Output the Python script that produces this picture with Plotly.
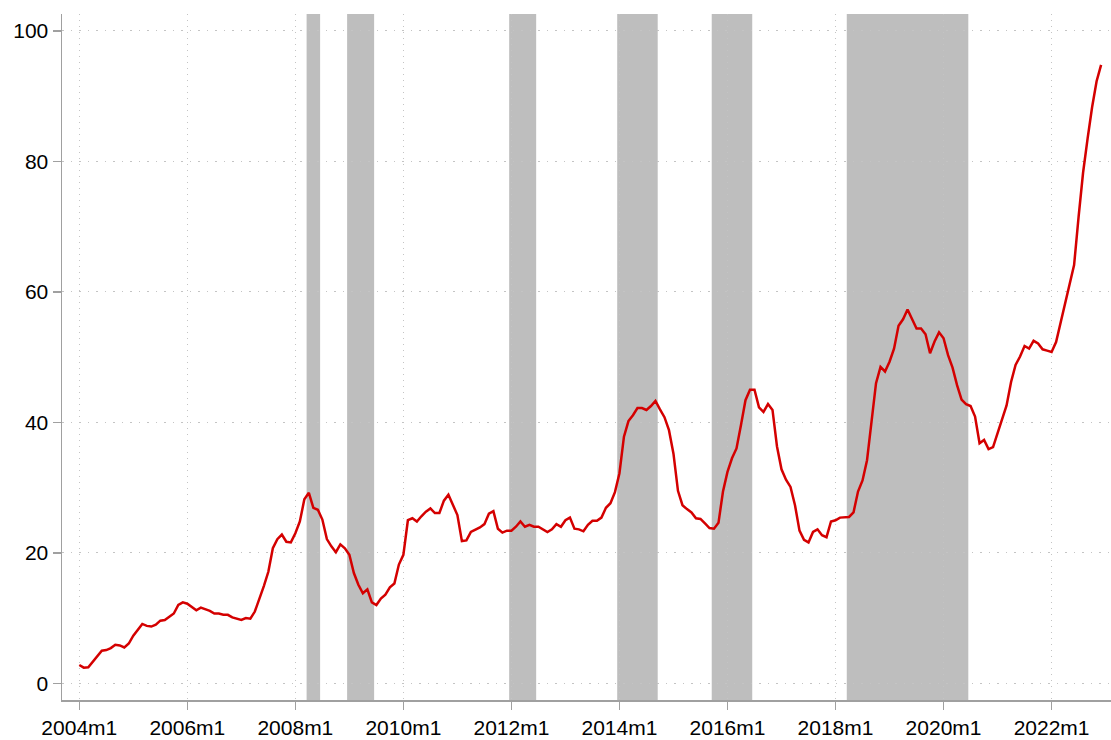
import plotly.graph_objects as go

# Monthly series starting 2004m1 (index 0) through 2022m12
start_year = 2004
values = [
    2.8, 2.4, 2.45, 3.3, 4.3, 5.0, 5.1, 5.4, 5.9, 5.8, 5.5, 6.1,
    7.3, 8.2, 9.1, 8.8, 8.7, 9.0, 9.6, 9.7, 10.2, 10.7, 12.0, 12.4,
    12.2, 11.7, 11.2, 11.6, 11.4, 11.1, 10.7, 10.7, 10.5, 10.5, 10.1, 9.9,
    9.7, 10.0, 9.9, 11.0, 12.8, 14.9, 17.1, 20.7, 22.1, 22.8, 21.7, 21.6,
    23.0, 24.8, 28.2, 29.2, 26.9, 26.6, 25.1, 22.1, 21.0, 20.1, 21.3, 20.7,
    19.7, 16.9, 15.1, 13.8, 14.4, 12.4, 12.0, 13.0, 13.6, 14.7, 15.3, 18.2,
    19.7, 25.0, 25.3, 24.8, 25.6, 26.3, 26.8, 26.1, 26.1, 28.0, 28.9, 27.2,
    25.8, 21.8, 21.9, 23.2, 23.5, 23.9, 24.4, 26.0, 26.4, 23.7, 23.1, 23.4,
    23.4, 24.0, 24.8, 24.0, 24.3, 24.0, 24.0, 23.6, 23.2, 23.6, 24.4, 24.0,
    25.0, 25.4, 23.7, 23.6, 23.3, 24.3, 24.9, 24.9, 25.4, 26.9, 27.6, 29.3,
    32.2, 37.8, 40.2, 41.1, 42.2, 42.2, 41.9, 42.5, 43.3, 42.0, 40.8, 38.8,
    35.2, 29.5, 27.3, 26.7, 26.2, 25.3, 25.2, 24.5, 23.8, 23.7, 24.6, 29.4,
    32.4, 34.5, 36.0, 39.6, 43.4, 45.0, 45.0, 42.3, 41.6, 42.8, 41.9, 36.3,
    32.8, 31.2, 30.1, 27.3, 23.4, 22.0, 21.6, 23.2, 23.6, 22.7, 22.4, 24.8,
    25.0, 25.4, 25.4, 25.5, 26.2, 29.4, 31.1, 34.2, 40.1, 46.0, 48.5, 47.8,
    49.3, 51.3, 54.8, 55.8, 57.3, 55.8, 54.4, 54.4, 53.5, 50.6, 52.4, 53.8,
    52.9, 50.3, 48.4, 45.7, 43.5, 42.8, 42.5, 40.9, 36.8, 37.3, 35.9, 36.2,
    38.3, 40.4, 42.6, 46.2, 48.8, 50.1, 51.7, 51.3, 52.5, 52.1, 51.2, 51.0,
    50.8, 52.3, 55.2, 58.1, 61.0, 64.1, 71.5, 78.3, 83.5, 88.3, 92.3, 94.8,
]
months = list(range(len(values)))

# Shaded periods (first and last month, inclusive)
band_start = ["2008m4", "2009m1", "2012m1", "2014m1", "2015m10", "2018m4"]
band_end = ["2008m6", "2009m6", "2012m6", "2014m9", "2016m6", "2020m6"]

tick_labels = ["2004m1", "2006m1", "2008m1", "2010m1", "2012m1",
               "2014m1", "2016m1", "2018m1", "2020m1", "2022m1"]
y_ticks = [0, 20, 40, 60, 80, 100]


def month_index(label):
    y, m = label.split("m")
    return (int(y) - start_year) * 12 + int(m) - 1


tick_vals = [month_index(t) for t in tick_labels]

Y_MIN, Y_MAX = -2.56, 102.6

fig = go.Figure()
fig.add_trace(go.Scatter(
    x=months, y=values, mode="lines",
    line=dict(color="#d40000", width=2.5),
    hoverinfo="skip", showlegend=False,
))

for s, e in zip(band_start, band_end):
    fig.add_shape(type="rect", xref="x", yref="y",
                  x0=month_index(s) - 0.5, x1=month_index(e) + 0.5,
                  y0=Y_MIN, y1=Y_MAX,
                  fillcolor="#bebebe", line=dict(width=0), layer="below")

font_family = "Liberation Sans, Arial, sans-serif"
fig.update_layout(
    width=1111, height=740,
    margin=dict(l=62, r=0, t=14, b=40),
    plot_bgcolor="white", paper_bgcolor="white",
    font=dict(family=font_family, size=21, color="black"),
    showlegend=False,
)
fig.update_xaxes(
    range=[-3.84, 229.2], tickvals=tick_vals, ticktext=tick_labels,
    showgrid=True, gridcolor="#c4c4c4", griddash="1px,5px", gridwidth=1,
    showline=True, linecolor="#a0a0a0", linewidth=1.5,
    ticks="outside", ticklen=8, tickcolor="#a0a0a0", tickwidth=1.5,
    zeroline=False, tickfont=dict(size=21),
)
fig.update_yaxes(
    range=[Y_MIN, Y_MAX], tickvals=y_ticks,
    showgrid=True, gridcolor="#c4c4c4", griddash="1.5px,7px", gridwidth=1,
    showline=True, linecolor="#a0a0a0", linewidth=1.5,
    ticks="outside", ticklen=8, tickcolor="#a0a0a0", tickwidth=1.5,
    zeroline=False, tickfont=dict(size=21),
)

fig.write_html(
    "out.html",
    config={"displayModeBar": False, "staticPlot": True},
    post_script="document.body.style.margin='0px';"
                "document.body.style.overflow='hidden';",
)
